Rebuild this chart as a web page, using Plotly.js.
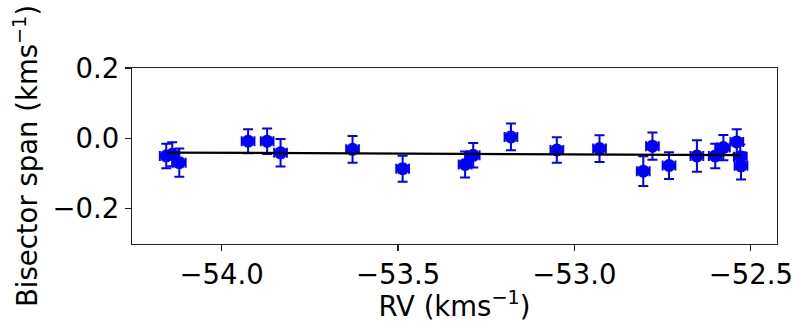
<!DOCTYPE html>
<html>
<head>
<meta charset="utf-8">
<script src="https://cdn.plot.ly/plotly-3.0.1.min.js"></script>
<style>html,body{margin:0;padding:0;background:#fff;}#chart{width:795px;height:322px;}</style>
</head>
<body>
<div id="chart"></div>
<script>
const rv = [-54.157, -54.140, -54.120, -53.925, -53.871, -53.833, -53.629, -53.487, -53.310, -53.287, -53.180, -53.050, -52.929, -52.805, -52.779, -52.732, -52.653, -52.601, -52.578, -52.540, -52.530, -52.528];
const bis = [-0.050, -0.045, -0.069, -0.008, -0.008, -0.041, -0.031, -0.086, -0.074, -0.048, 0.004, -0.033, -0.029, -0.093, -0.022, -0.077, -0.050, -0.050, -0.026, -0.010, -0.052, -0.078];
const bisErr = [0.035, 0.034, 0.040, 0.034, 0.036, 0.039, 0.038, 0.037, 0.037, 0.035, 0.038, 0.036, 0.038, 0.042, 0.039, 0.038, 0.045, 0.035, 0.036, 0.036, 0.035, 0.039];
const rvErr = [0.018, 0.018, 0.018, 0.018, 0.018, 0.018, 0.018, 0.018, 0.018, 0.018, 0.018, 0.018, 0.018, 0.018, 0.018, 0.018, 0.018, 0.018, 0.018, 0.018, 0.018, 0.018];

// least-squares linear fit of bisector span vs RV
const n = rv.length;
const mx = rv.reduce((a,b)=>a+b,0)/n;
const my = bis.reduce((a,b)=>a+b,0)/n;
let sxy = 0, sxx = 0;
for (let i=0;i<n;i++){ sxy += (rv[i]-mx)*(bis[i]-my); sxx += (rv[i]-mx)**2; }
const slope = sxy/sxx, intercept = my - slope*mx;
const fitX = [Math.min(...rv), Math.max(...rv)];
const fitY = fitX.map(x => intercept + slope*x);

const blue = '#0000ff';
const traces = [
  {
    x: rv, y: bis, type: 'scatter', mode: 'markers',
    marker: {color: blue, size: 13},
    error_y: {type: 'data', array: bisErr, visible: true, color: blue, thickness: 2, width: 5},
    error_x: {type: 'data', array: rvErr, visible: true, color: blue, thickness: 2, width: 5},
    showlegend: false
  },
  {
    x: fitX, y: fitY, type: 'scatter', mode: 'lines',
    line: {color: '#000000', width: 2.2}, showlegend: false
  }
];

const fnt = {family: 'DejaVu Sans', size: 27.5, color: '#000'};
const axisCommon = {
  showline: true, mirror: true, linecolor: '#222', linewidth: 1.2,
  ticks: 'outside', ticklen: 6, tickwidth: 1.2, tickcolor: '#222',
  showgrid: false, zeroline: false,
  tickfont: fnt
};

const layout = {
  width: 795, height: 322,
  margin: {l: 132, r: 18, t: 68, b: 78},
  paper_bgcolor: '#fff', plot_bgcolor: '#fff',
  font: {family: 'DejaVu Sans', color: '#000'},
  xaxis: Object.assign({}, axisCommon, {
    range: [-54.254, -52.426], tickvals: [-54.0, -53.5, -53.0, -52.5], tickformat: '.1f',
    title: {text: 'RV (kms<sup>−1</sup>)', font: fnt, standoff: 4}
  }),
  yaxis: Object.assign({}, axisCommon, {
    range: [-0.3, 0.2], tickvals: [-0.2, 0.0, 0.2], tickformat: '.1f',
    title: {text: 'Bisector span (kms<sup>−1</sup>)', font: fnt, standoff: 6}
  })
};

Plotly.newPlot('chart', traces, layout, {displayModeBar: false, staticPlot: true});
</script>
</body>
</html>
